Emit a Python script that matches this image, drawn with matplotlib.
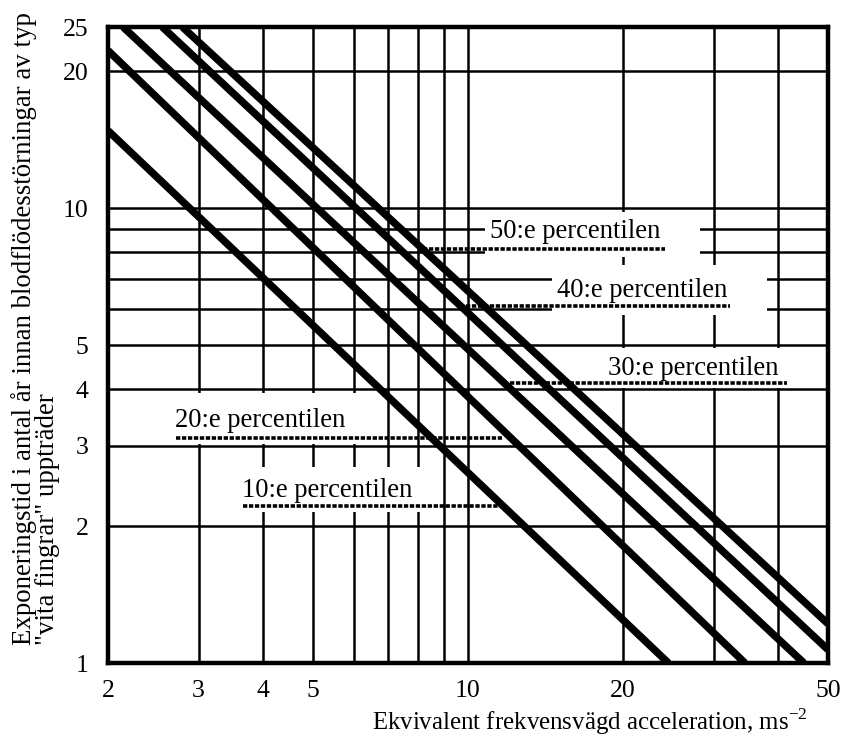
import matplotlib
matplotlib.use("Agg")
import matplotlib.pyplot as plt
from matplotlib.patches import Rectangle

plt.rcParams['font.family'] = ['Liberation Serif', 'DejaVu Serif']
plt.rcParams['mathtext.fontset'] = 'custom'
plt.rcParams['mathtext.rm'] = 'Liberation Serif'

# percentile lines, start and end points
percentiles = ["10:e percentilen", "20:e percentilen", "30:e percentilen",
               "40:e percentilen", "50:e percentilen"]
line_x0 = [2.0, 2.0, 2.14, 2.55, 2.79]
line_y0 = [14.8, 22.2, 25.0, 25.0, 25.0]
line_x1 = [24.5, 34.5, 44.9, 50.0, 50.0]
line_y1 = [1.0, 1.0, 1.0, 1.07, 1.22]

# axis ticks
x_labeled = [2, 3, 4, 5, 10, 20, 50]
x_minor = [6, 7, 8, 9, 30, 40]
y_labeled = [1, 2, 3, 4, 5, 10, 20, 25]
y_minor = [6, 7, 8, 9]

fs_tick = 18.5
fs_lab = 19.2

fig = plt.figure(figsize=(8.41, 7.38), dpi=100)
ax = fig.add_axes([0.1284, 0.1016, 0.8561, 0.8618])
ax.set_xscale('log')
ax.set_yscale('log')
ax.set_xlim(2, 50)
ax.set_ylim(1, 25)

ax.set_xticks(x_labeled)
ax.set_xticklabels([str(v) for v in x_labeled])
ax.set_xticks(x_minor, minor=True)
ax.set_xticklabels([], minor=True)
ax.set_yticks(y_labeled)
ax.set_yticklabels([str(v) for v in y_labeled])
ax.set_yticks(y_minor, minor=True)
ax.set_yticklabels([], minor=True)
ax.tick_params(which='both', length=0, labelsize=fs_tick)
ax.tick_params(axis='x', pad=12)
ax.tick_params(axis='y', pad=14)

ax.set_axisbelow(True)
ax.grid(True, which='both', color='black', linewidth=1.8)
for s in ax.spines.values():
    s.set_linewidth(3.2)
    s.set_zorder(6)

# label boxes: (text x, text y, box x0, box x1, box y0, box y1, dots x0, dots x1, dots y)
layout = [
    (3.64, 2.40, 3.53, 8.70, 2.15, 2.70, 3.65, 11.54, 2.21),
    (2.70, 3.42, 2.62, 6.78, 3.03, 3.93, 2.71, 11.64, 3.12),
    (18.7, 4.45, 18.3, 47.6, 4.02, 4.92, 12.07, 41.6, 4.13),
    (14.9, 6.60, 14.56, 38.1, 5.82, 7.49, 9.65, 32.3, 6.09),
    (11.03, 8.86, 10.79, 28.2, 7.80, 9.80, 8.18, 24.1, 8.13),
]

for lab, (tx, ty, bx0, bx1, by0, by1, dx0, dx1, dy) in zip(percentiles, layout):
    ax.add_patch(Rectangle((bx0, by0), bx1 - bx0, by1 - by0,
                           facecolor='white', edgecolor='none', zorder=2))
    ax.plot([dx0, dx1], [dy, dy], color='black', linewidth=2.6,
            linestyle=(0, (1.2, 0.45)), zorder=3)
    ax.text(tx, ty, lab, fontsize=fs_lab, ha='left', va='center', zorder=5)

for x0, y0, x1, y1 in zip(line_x0, line_y0, line_x1, line_y1):
    ax.plot([x0, x1], [y0, y1], color='black', linewidth=5.4,
            solid_capstyle='butt', zorder=4)

fig.text(0.9607, 1 - 722 / 738, 'Ekvivalent frekvensvägd acceleration, ms$^{-2}$',
         fontsize=17.9, ha='right', va='center')
fig.text(0.042, 1 - 645 / 738,
         'Exponeringstid i antal år innan blodflödesstörningar av typ\n"vita fingrar" uppträder',
         fontsize=19.4, rotation=90, ha='center', va='bottom',
         multialignment='left', linespacing=0.92)

plt.savefig('out.png', dpi=100)
